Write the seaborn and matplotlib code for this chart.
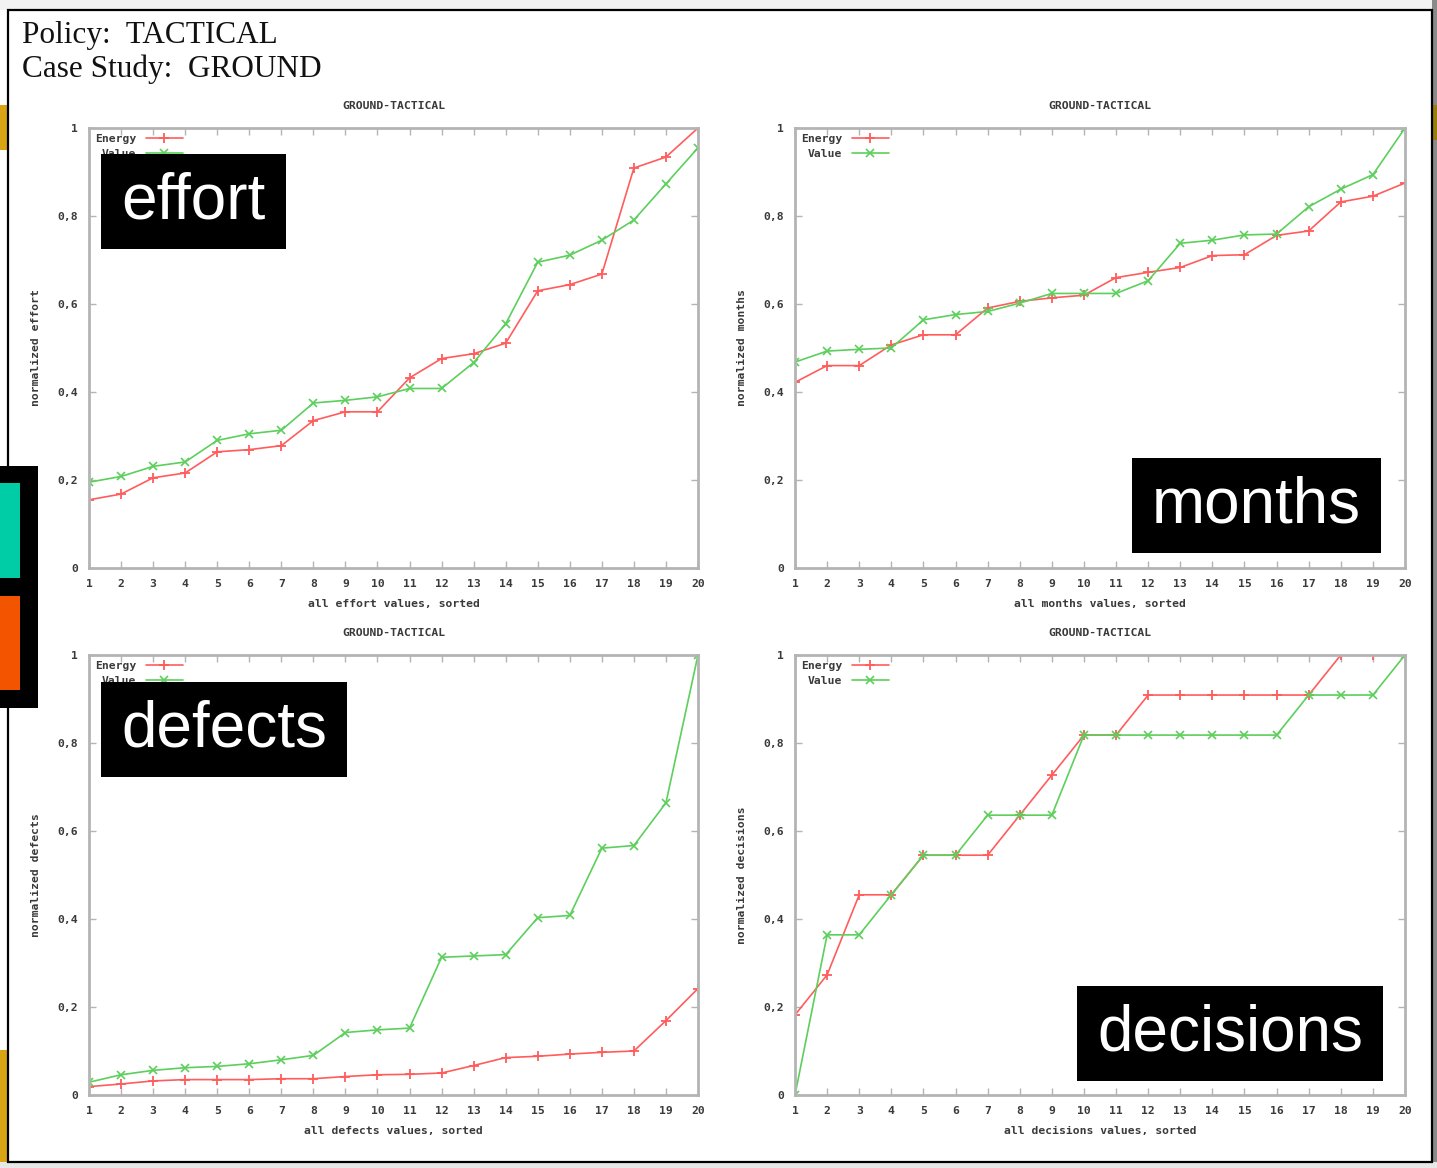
import matplotlib
matplotlib.use("Agg")
import matplotlib.pyplot as plt
from matplotlib.patches import Rectangle
import seaborn as sns
import pandas as pd

# ---------------- data ----------------
positions = list(range(1, 21))
x_tick_labels = [str(i) for i in positions]
y_ticks = [0, 0.2, 0.4, 0.6, 0.8, 1.0]
y_tick_labels = ["0", "0,2", "0,4", "0,6", "0,8", "1"]

effort_energy = [0.155, 0.168, 0.205, 0.216, 0.264, 0.269, 0.278, 0.335, 0.355, 0.355,
                 0.432, 0.476, 0.487, 0.511, 0.630, 0.644, 0.668, 0.909, 0.934, 1.000]
effort_value = [0.195, 0.208, 0.231, 0.241, 0.290, 0.305, 0.313, 0.375, 0.381, 0.389,
                0.408, 0.408, 0.467, 0.555, 0.695, 0.711, 0.745, 0.791, 0.873, 0.955]

months_energy = [0.422, 0.460, 0.460, 0.507, 0.530, 0.530, 0.591, 0.606, 0.614, 0.620,
                 0.660, 0.672, 0.683, 0.710, 0.712, 0.756, 0.766, 0.832, 0.845, 0.875]
months_value = [0.468, 0.493, 0.497, 0.500, 0.564, 0.576, 0.583, 0.602, 0.624, 0.624,
                0.624, 0.653, 0.738, 0.745, 0.757, 0.759, 0.821, 0.861, 0.894, 1.000]

defects_energy = [0.019, 0.025, 0.032, 0.035, 0.035, 0.035, 0.037, 0.037, 0.042, 0.046,
                  0.047, 0.050, 0.067, 0.085, 0.088, 0.093, 0.097, 0.100, 0.169, 0.242]
defects_value = [0.029, 0.046, 0.056, 0.062, 0.065, 0.071, 0.080, 0.090, 0.142, 0.148,
                 0.152, 0.313, 0.316, 0.319, 0.403, 0.408, 0.561, 0.567, 0.664, 1.000]

decisions_energy = [0.182, 0.273, 0.455, 0.455, 0.545, 0.545, 0.545, 0.636, 0.727, 0.818,
                    0.818, 0.909, 0.909, 0.909, 0.909, 0.909, 0.909, 1.000, 1.000, 1.000]
decisions_value = [0.000, 0.364, 0.364, 0.455, 0.545, 0.545, 0.636, 0.636, 0.636, 0.818,
                   0.818, 0.818, 0.818, 0.818, 0.818, 0.818, 0.909, 0.909, 0.909, 1.000]

metrics = ["effort", "months", "defects", "decisions"]
series_names = ["Energy", "Value"]
chart_title = "GROUND-TACTICAL"
header_lines = ["Policy:  TACTICAL", "Case Study:  GROUND"]

data = {
    "effort": (effort_energy, effort_value),
    "months": (months_energy, months_value),
    "defects": (defects_energy, defects_value),
    "decisions": (decisions_energy, decisions_value),
}

# ---------------- figure ----------------
W, H = 1437, 1168
sns.set_theme(style="white")
plt.rcParams["font.family"] = ["DejaVu Sans"]
fig = plt.figure(figsize=(W / 100, H / 100), dpi=100)
fig.patch.set_facecolor("white")


def fx(px):
    return px / W


def fy(py):
    return 1 - py / H


def add_rect(x0, y0, x1, y1, color, z=10, **kw):
    r = Rectangle((fx(x0), fy(y1)), fx(x1) - fx(x0), fy(y0) - fy(y1),
                  transform=fig.transFigure, facecolor=color, edgecolor="none",
                  zorder=z, **kw)
    fig.add_artist(r)
    return r


# slide-like surroundings
add_rect(0, 0, W, 10, "#f2f2f2", z=-5)
add_rect(1432, 0, W, H, "#8a8a8a", z=-5)
add_rect(1432, 105, W, 140, "#9a7d0a", z=-4)
add_rect(0, 105, 8, 150, "#d9a514", z=-4)
add_rect(0, 1050, 8, 1162, "#d9a514", z=-4)
add_rect(0, 1162, W, H, "#e8e8e8", z=-5)
frame = Rectangle((fx(8), fy(1162)), fx(1432) - fx(8), fy(10) - fy(1162),
                  transform=fig.transFigure, facecolor="none", edgecolor="black",
                  linewidth=1.6, zorder=20)
fig.add_artist(frame)
# left side decoration
add_rect(0, 466, 38, 708, "black", z=21)
add_rect(0, 483, 20, 578, "#00cca6", z=22)
add_rect(0, 596, 20, 690, "#f25400", z=22)

# header text
for i, line in enumerate(header_lines):
    fig.text(fx(22), fy(35 + 34 * i), line, family="Liberation Serif",
             fontsize=22.5, color="#111111", va="center", ha="left")

axes_px = {
    "effort": (89, 128, 698, 568),
    "months": (795, 128, 1405, 568),
    "defects": (89, 655, 698, 1095),
    "decisions": (795, 655, 1405, 1095),
}

label_boxes = {
    "effort": (101, 154, 286, 249),
    "months": (1132, 458, 1381, 553),
    "defects": (101, 682, 347, 777),
    "decisions": (1077, 986, 1383, 1081),
}

red = "#ff5c5c"
green = "#5ccf5c"
frame_gray = "#b4b4b4"
tick_font = dict(family="DejaVu Sans Mono", weight="bold", size=8.2, color="#3a3a3a")

for m in metrics:
    x0, y0, x1, y1 = axes_px[m]
    ax = fig.add_axes([fx(x0), fy(y1), fx(x1) - fx(x0), fy(y0) - fy(y1)])
    en, va = data[m]
    df = pd.DataFrame({"pos": positions * 2,
                       "val": en + va,
                       "series": [series_names[0]] * 20 + [series_names[1]] * 20})
    sns.lineplot(data=df[df.series == series_names[0]], x="pos", y="val", ax=ax,
                 color=red, lw=1.2, marker="+", markersize=7, mew=1.3,
                 mec=red, label=series_names[0])
    sns.lineplot(data=df[df.series == series_names[1]], x="pos", y="val", ax=ax,
                 color=green, lw=1.2, marker="x", markersize=5.5, mew=1.2,
                 mec=green, label=series_names[1])
    ax.set_xlim(1, 20)
    ax.set_ylim(0, 1)
    ax.set_xticks(positions)
    ax.set_xticklabels(x_tick_labels, fontdict=tick_font)
    ax.set_yticks(y_ticks)
    ax.set_yticklabels(y_tick_labels, fontdict=tick_font)
    ax.tick_params(axis="both", which="both", direction="in", length=5, width=1,
                   color=frame_gray, top=True, right=True, bottom=True, left=True,
                   pad=8)
    for s in ax.spines.values():
        s.set_color(frame_gray)
        s.set_linewidth(2)
    ax.set_xlabel(f"all {m} values, sorted", fontdict=tick_font, labelpad=7)
    ax.set_ylabel(f"normalized {m}", fontdict=tick_font, labelpad=12)
    ax.text(0.5, 1 + 22 / 440, chart_title, transform=ax.transAxes,
            ha="center", va="center", **tick_font)
    leg = ax.legend(loc="upper left", frameon=False, markerfirst=False,
                    prop=dict(family="DejaVu Sans Mono", weight="bold", size=8.2),
                    handlelength=3.3, handletextpad=0.8, labelspacing=0.4,
                    borderaxespad=0.35, borderpad=0.2)
    for t in leg.get_texts():
        t.set_ha("right")
        t.set_color("#3a3a3a")

    # black caption box
    bx0, by0, bx1, by1 = label_boxes[m]
    add_rect(bx0, by0, bx1, by1, "black", z=30)
    fig.text((fx(bx0) + fx(bx1)) / 2, (fy(by0) + fy(by1)) / 2, m,
             family="Liberation Sans", fontsize=46, color="white",
             ha="center", va="center", zorder=31)

fig.savefig("out.png", dpi=100, facecolor=fig.get_facecolor())
